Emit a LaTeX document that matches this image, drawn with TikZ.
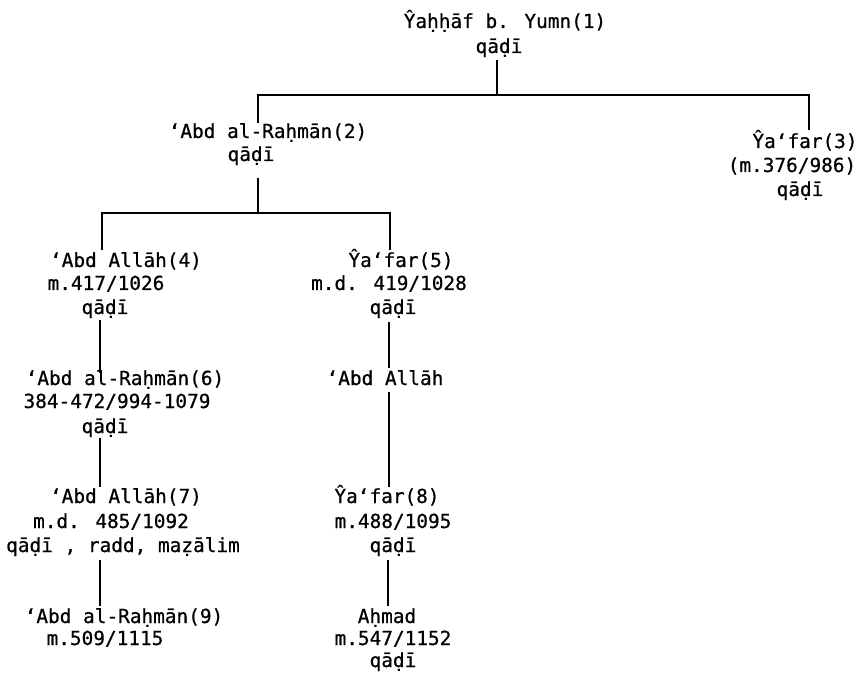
\documentclass[tikz,border=0pt]{standalone}
\usepackage{fontspec}
\newfontfamily\tw[FakeBold=0.7]{DejaVu Sans Mono}
\begin{document}
\begin{tikzpicture}[x=1pt,y=-1pt,
  lbl/.style={anchor=base, inner sep=0pt, font=\tw\fontsize{19.4}{24}\selectfont},
  link/.style={line width=1.5pt, line cap=butt}]
\useasboundingbox (0,0) rectangle (865,676);
% node 1
\node[lbl] (n1a) at (505,28) {Ŷaḥḥāf b. Yumn(1)};
\node[lbl] (n1b) at (499,53) {qāḍī};
% node 2
\node[lbl] (n2a) at (268,138) {ʻAbd al-Raḥmān(2)};
\node[lbl] (n2b) at (251,161) {qāḍī};
% node 3
\node[lbl] (n3a) at (805,148) {Ŷaʻfar(3)};
\node[lbl] (n3b) at (792,172) {(m.376/986)};
\node[lbl] (n3c) at (800,196) {qāḍī};
% node 4
\node[lbl] (n4a) at (126,267) {ʻAbd Allāh(4)};
\node[lbl] (n4b) at (106,290) {m.417/1026};
\node[lbl] (n4c) at (105,314) {qāḍī};
% node 5
\node[lbl] (n5a) at (401,267) {Ŷaʻfar(5)};
\node[lbl] (n5b) at (389,290) {m.d. 419/1028};
\node[lbl] (n5c) at (393,314) {qāḍī};
% node 6
\node[lbl] (n6a) at (125,385) {ʻAbd al-Raḥmān(6)};
\node[lbl] (n6b) at (117,408) {384-472/994-1079};
\node[lbl] (n6c) at (105,433) {qāḍī};
% Abd Allah (col 2)
\node[lbl] (nx) at (385,385) {ʻAbd Allāh};
% node 7
\node[lbl] (n7a) at (126,503) {ʻAbd Allāh(7)};
\node[lbl] (n7b) at (111,528) {m.d. 485/1092};
\node[lbl] (n7c) at (123,552) {qāḍī , radd, maẓālim};
% node 8
\node[lbl] (n8a) at (387,503) {Ŷaʻfar(8)};
\node[lbl] (n8b) at (393,528) {m.488/1095};
\node[lbl] (n8c) at (393,552) {qāḍī};
% node 9
\node[lbl] (n9a) at (124,623) {ʻAbd al-Raḥmān(9)};
\node[lbl] (n9b) at (105,645) {m.509/1115};
% Ahmad
\node[lbl] (nya) at (387,623) {Aḥmad};
\node[lbl] (nyb) at (393,645) {m.547/1152};
\node[lbl] (nyc) at (393,667) {qāḍī};
% connector points
\coordinate (c1) at (497,60);  \coordinate (j1) at (497,95);
\coordinate (k2) at (258,95);  \coordinate (c2) at (258,123);
\coordinate (k3) at (809,95);  \coordinate (c3) at (809,130);
\coordinate (c2b) at (258,178); \coordinate (j2) at (258,213);
\coordinate (k4) at (102,213); \coordinate (c4) at (102,250);
\coordinate (k5) at (390,213); \coordinate (c5) at (390,250);
\coordinate (c4b) at (100,320); \coordinate (c6) at (100,373);
\coordinate (c5b) at (389,322); \coordinate (cx) at (389,368);
\coordinate (c6b) at (100,438); \coordinate (c7) at (100,487);
\coordinate (cxb) at (389,392); \coordinate (c8) at (389,487);
\coordinate (c7b) at (100,560); \coordinate (c9) at (100,606);
\coordinate (c8b) at (388,560); \coordinate (cy) at (388,606);
% connectors
\draw[link] (c1) -- (j1);
\draw[link] (c2) -- (k2) -- (k3) -- (c3);
\draw[link] (c2b) -- (j2);
\draw[link] (c4) -- (k4) -- (k5) -- (c5);
\draw[link] (c4b) -- (c6);
\draw[link] (c5b) -- (cx);
\draw[link] (c6b) -- (c7);
\draw[link] (cxb) -- (c8);
\draw[link] (c7b) -- (c9);
\draw[link] (c8b) -- (cy);
\end{tikzpicture}
\end{document}
